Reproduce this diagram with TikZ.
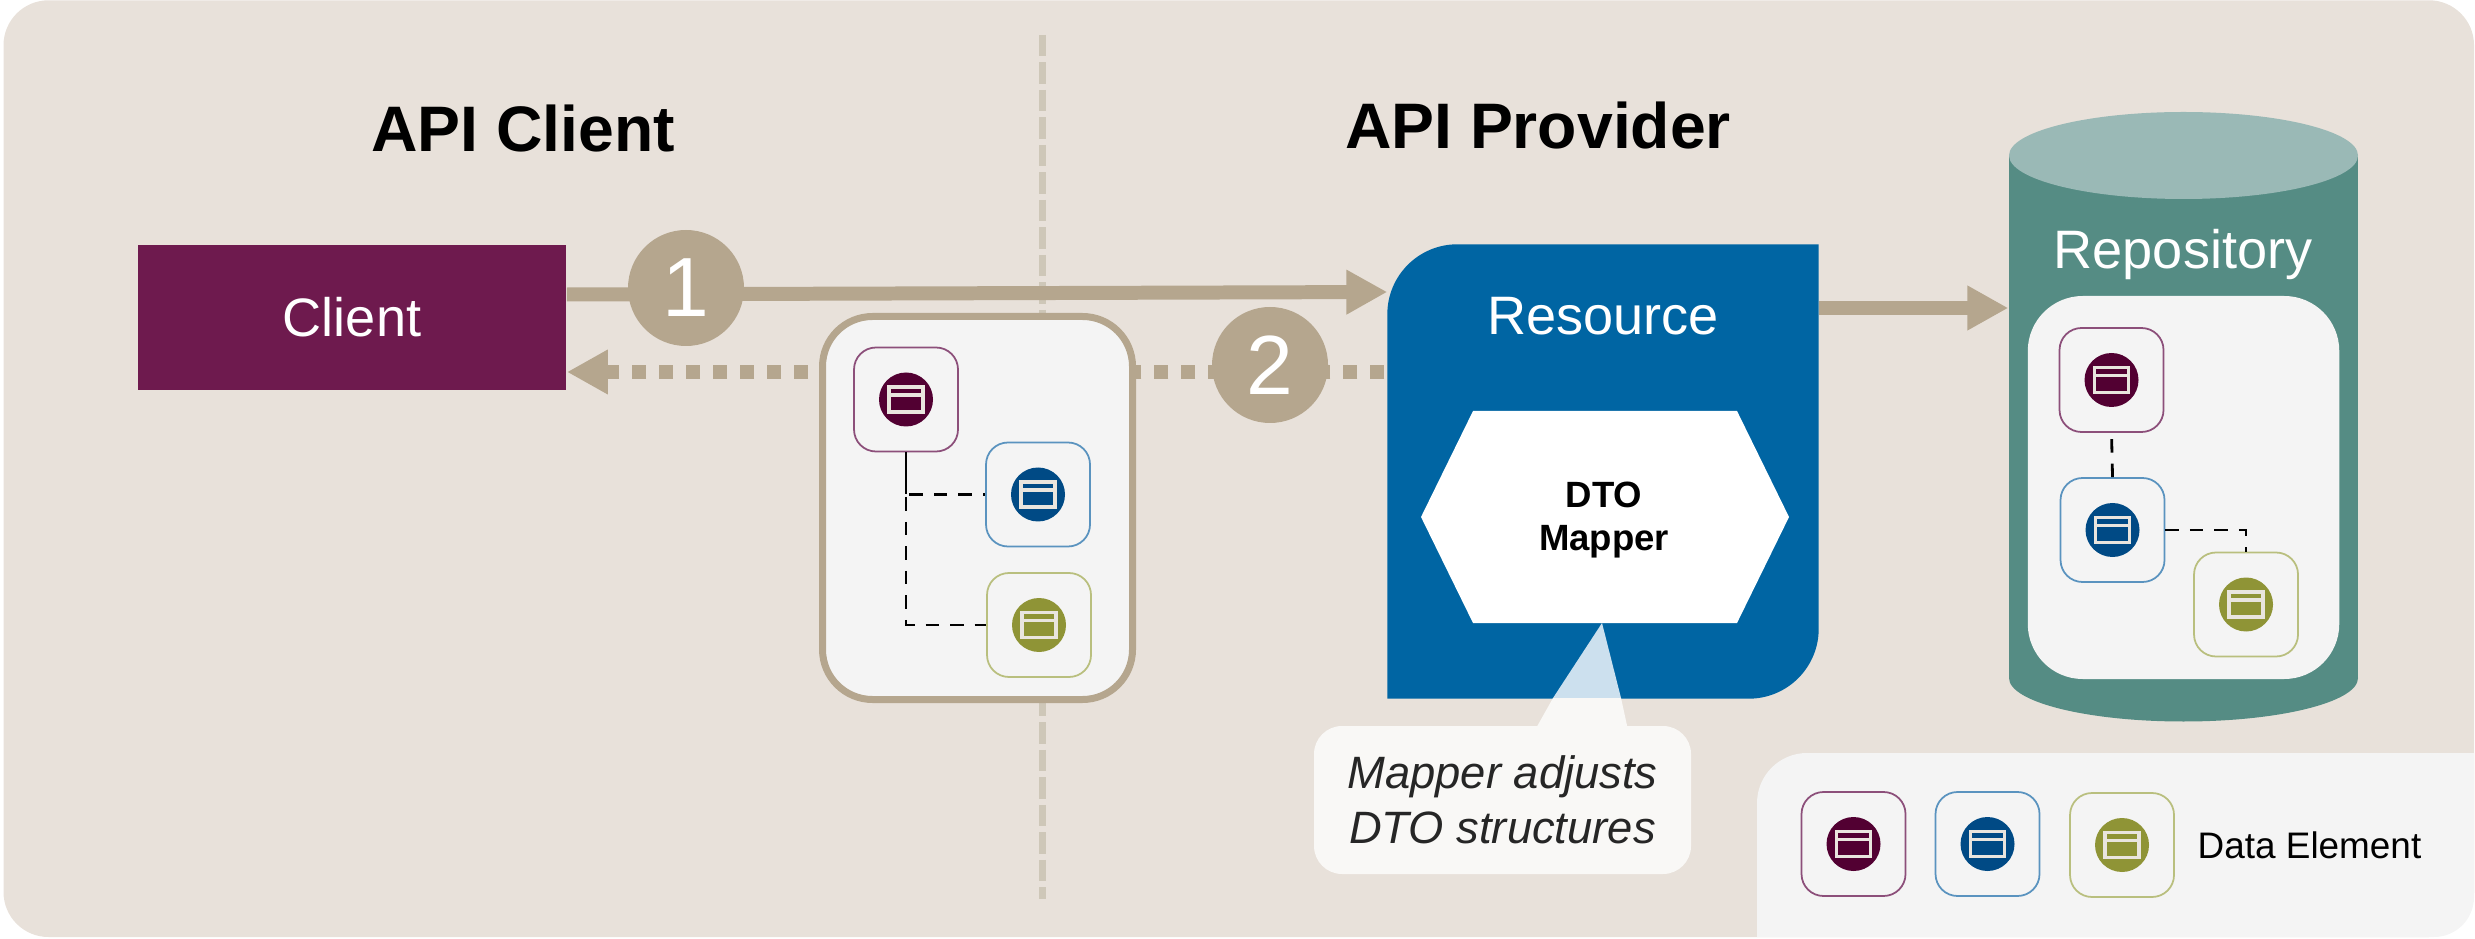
\documentclass[tikz,border=0pt]{standalone}
\usepackage{fontspec}
\setmainfont{Liberation Sans}
\usetikzlibrary{arrows.meta}

\definecolor{backdrop}{HTML}{E8E1DA}
\definecolor{flowtan}{HTML}{B5A68E}
\definecolor{splitline}{HTML}{CEC7B8}
\definecolor{panelgrey}{HTML}{F4F4F4}
\definecolor{clientplum}{HTML}{6E1A4E}
\definecolor{resourceblue}{HTML}{0065A3}
\definecolor{repogreen}{HTML}{558C84}
\definecolor{repotop}{HTML}{9AB9B6}
\definecolor{calloutwhite}{HTML}{F9F8F6}
\definecolor{calloutblue}{HTML}{CCE0EE}
\definecolor{iconline}{HTML}{E9E5DE}
\definecolor{plumline}{HTML}{8C4F7A}
\definecolor{plumdot}{HTML}{520032}
\definecolor{blueline}{HTML}{5A93BF}
\definecolor{bluedot}{HTML}{004A85}
\definecolor{oliveline}{HTML}{B9BF7E}
\definecolor{olivedot}{HTML}{8F9436}

\tikzset{
    flow/.style={flowtan,line width=3.98pt,-{Triangle[length=.41cm,width=.42cm]}},
    flowdots/.style={flowtan,line width=3.98pt,dash pattern=on .14cm off .13cm},
    numdisc/.style={circle,fill=flowtan,text=white,inner sep=0pt,minimum size=1.16cm,
        font=\fontsize{23.9}{24}\selectfont},
    elembox/.style={draw,fill=panelgrey,line width=.5pt,rounded corners=.22cm,
        minimum width=1.04cm,minimum height=1.04cm,inner sep=0pt},
    elemdot/.style={circle,inner sep=0pt,minimum size=.54cm},
    elemicon/.style={draw=iconline,line width=.9pt},
    dashlink/.style={black,line width=.8pt,dash pattern=on .135cm off .11cm},
    sectitle/.style={anchor=base,font=\fontsize{18.3}{20}\selectfont\bfseries},
    boxtitle/.style={anchor=base,text=white,font=\fontsize{15.4}{18}\selectfont},
    frame/.style={inner sep=0pt}
}

\newcommand{\dataelement}[4]{%
    \node[elembox,draw=#4line] (#1) at (#2,#3) {};
    \node[elemdot,fill=#4dot] (#1dot) at (#1) {};
    \draw[elemicon,shift={(#2,#3)}] (-.17,-.125) rectangle (.17,.125)
        (-.17,-.045) -- (.17,-.045);
}

\begin{document}
\begin{tikzpicture}[y=-1cm]
    \useasboundingbox (0,0) rectangle (24.75,9.39);
    \fill[backdrop,rounded corners=.45cm] (.035,.003) rectangle (24.74,9.37);
    \fill[panelgrey] (17.57,9.37) [rounded corners=.5cm] -- (17.57,7.53)
        [sharp corners] -- (24.74,7.53) [rounded corners=.4cm] -- (24.74,9.37)
        [sharp corners] -- cycle;
    \draw[splitline,line width=1.99pt,dash pattern=on .215cm off .06cm]
        (10.42,.35) -- (10.42,8.99);

    \node[sectitle] (clienttitle) at (5.23,1.52) {API Client};
    \node[sectitle] (providertitle) at (15.38,1.49) {API Provider};

    \coordinate (sendstart) at (0,2.945);
    \coordinate (sendline) at (0,2.92);
    \coordinate (replyline) at (0,3.72);
    \coordinate (storeline) at (0,3.08);

    \node[fill=clientplum,text=white,minimum width=4.285cm,minimum height=1.45cm,
        inner sep=0pt,font=\fontsize{15.4}{18}\selectfont] (client) at (3.52,3.175) {Client};
    \node[frame,minimum width=4.30cm,minimum height=4.53cm] (resource) at (16.03,4.715) {};
    \node[frame,minimum width=3.49cm,minimum height=6.09cm] (repo) at (21.835,4.165) {};
    \node[draw=flowtan,fill=panelgrey,line width=1.99pt,rounded corners=.5cm,
        minimum width=3.10cm,minimum height=3.83cm,inner sep=0pt] (group) at (9.775,5.08) {};

    \draw[flowdots,dash phase=.24cm] (resource.west |- replyline) -- (group.east |- replyline);
    \draw[flowdots,dash phase=.16cm,-{Triangle[length=.41cm,width=.42cm]}]
        (group.west |- replyline) -- (client.east |- replyline);
    \draw[flow] (client.east |- sendstart) -- (resource.west |- sendline);
    \draw[flow] (resource.east |- storeline) -- (repo.west |- storeline);
    \node[numdisc] (stepone) at (6.86,2.88) {1};
    \node[numdisc] (steptwo) at (12.70,3.65) {2};

    \fill[resourceblue] (resource.west) [rounded corners=.7cm] -- (resource.north west)
        [sharp corners] -- (resource.north east) [rounded corners=.7cm] -- (resource.south east)
        [sharp corners] -- (resource.south west) -- cycle;
    \node[boxtitle] (resourcelabel) at (16.03,3.35) {Resource};
    \fill[white] (14.21,5.17) -- (14.73,4.11) -- (17.37,4.11) -- (17.89,5.17)
        -- (17.37,6.23) -- (14.73,6.23) -- cycle;
    \node[align=center,inner sep=0pt,font=\fontsize{10.4}{12.2}\selectfont\bfseries]
        (mapper) at (16.04,5.20) {DTO\\Mapper};
    \fill[calloutblue] (16.02,6.23) -- (15.53,6.98) -- (16.21,6.98) -- cycle;
    \fill[calloutwhite] (15.53,6.98) -- (16.21,6.98) -- (16.28,7.3) -- (15.35,7.3) -- cycle;
    \node[fill=calloutwhite,text=black!85,rounded corners=.28cm,minimum width=3.77cm,
        minimum height=1.48cm,inner sep=0pt,align=center,
        font=\fontsize{12.9}{15.6}\selectfont\itshape] (callout) at (15.025,8.0)
        {\raisebox{-.4pt}{Mapper adjusts}\\\raisebox{-.4pt}{DTO structures}};

    \fill[repogreen] (20.09,1.555) rectangle (23.58,6.78);
    \fill[repogreen] (21.835,6.78) ellipse [x radius=1.745,y radius=.435];
    \fill[repotop] (21.835,1.555) ellipse [x radius=1.745,y radius=.435];
    \node[boxtitle] (repolabel) at (21.83,2.69) {Repository};
    \node[fill=panelgrey,rounded corners=.55cm,minimum width=3.115cm,minimum height=3.83cm,
        inner sep=0pt] (repopanel) at (21.835,4.875) {};

    \dataelement{groupplum}{9.06}{3.995}{plum}
    \dataelement{groupblue}{10.38}{4.945}{blue}
    \dataelement{groupolive}{10.39}{6.25}{olive}
    \coordinate (groupjoin) at (groupplum.south |- groupblue);
    \draw[black,line width=.8pt] (groupplum.south) -- (groupjoin);
    \draw[dashlink,dash phase=.11cm] (groupblue.west) -- (groupjoin);
    \draw[dashlink,dash phase=.215cm] (groupjoin) |- (groupolive.west);

    \dataelement{repoplum}{21.115}{3.80}{plum}
    \dataelement{repoblue}{21.125}{5.30}{blue}
    \dataelement{repoolive}{22.46}{6.045}{olive}
    \draw[dashlink] (repoblue.north) -- (repoplum.south);
    \draw[dashlink] (repoblue.east) -| (repoolive.north);

    \dataelement{keyplum}{18.535}{8.44}{plum}
    \dataelement{keyblue}{19.875}{8.44}{blue}
    \dataelement{keyolive}{21.22}{8.45}{olive}
    \node[anchor=base west,inner sep=0pt,font=\fontsize{10.5}{12}\selectfont] (keylabel)
        at (21.97,8.585) {Data Element};
\end{tikzpicture}
\end{document}
